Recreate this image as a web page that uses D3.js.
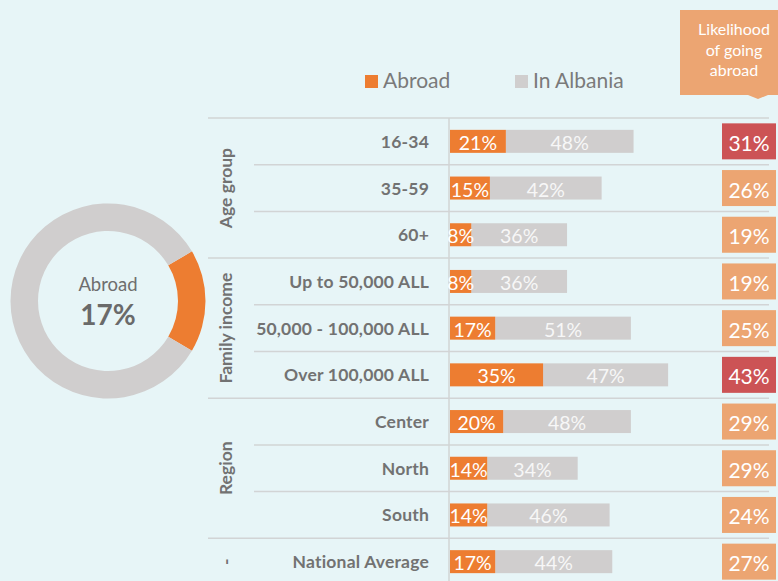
<!DOCTYPE html>
<html>
<head>
<meta charset="utf-8">
<script src="https://cdn.jsdelivr.net/npm/d3@7"></script>
<style>
  html, body { margin: 0; padding: 0; background: #E7F5F7; }
  svg { display: block; font-family: Lato, "Open Sans", sans-serif; }
</style>
</head>
<body>
<svg id="chart" width="778" height="581"></svg>
<script>
// Share of respondents planning to move abroad vs. within Albania, by group
const categories = ["16-34", "35-59", "60+", "Up to 50,000 ALL", "50,000 - 100,000 ALL",
  "Over 100,000 ALL", "Center", "North", "South", "National Average"];
const groups = [
  { name: "Age group", first: 0, last: 2 },
  { name: "Family income", first: 3, last: 5 },
  { name: "Region", first: 6, last: 8 },
  { name: "-", first: 9, last: 9 }
];
const abroad = [21, 15, 8, 8, 17, 35, 20, 14, 14, 17];
const inAlbania = [48, 42, 36, 36, 51, 47, 48, 34, 46, 44];
const likelihood = [31, 26, 19, 19, 25, 43, 29, 29, 24, 27];
const nationalAbroad = 17;
const seriesNames = ["Abroad", "In Albania"];

const C = {
  orange: "#ED7D31", gray: "#D0CECE", red: "#CC5355", peach: "#ECA572",
  text: "#727272", rule: "#D2D4D5"
};

const svg = d3.select("#chart");

// Row layout
const y = d3.scaleBand().domain(d3.range(categories.length)).range([118, 585]).padding(0);
const x = d3.scaleLinear().domain([0, 100]).range([450, 716]);
const barH = 23;
const axisX = 449;

// Row rules: right side for every boundary, left side full width at group edges
const bounds = d3.range(categories.length).map(i => y(i));
const groupStarts = new Set(groups.map(g => g.first));
svg.append("g").selectAll("line").data(bounds).join("line")
  .attr("x1", (d, i) => groupStarts.has(i) ? 208 : 254)
  .attr("x2", 769)
  .attr("y1", d => d).attr("y2", d => d)
  .attr("stroke", C.rule).attr("stroke-width", 1.5);
svg.append("line").attr("x1", axisX).attr("x2", axisX).attr("y1", 118).attr("y2", 581)
  .attr("stroke", C.rule).attr("stroke-width", 1.5);

// Category labels
svg.append("g").selectAll("text").data(categories).join("text")
  .attr("x", 429).attr("y", (d, i) => y(i) + y.bandwidth() / 2)
  .attr("text-anchor", "end").attr("dominant-baseline", "central")
  .attr("font-size", 17.5).attr("font-weight", 700).attr("fill", C.text)
  .attr("letter-spacing", 0.2)
  .text(d => d);

// Group labels (rotated)
svg.append("g").selectAll("text").data(groups).join("text")
  .attr("transform", g => {
    const cy = (y(g.first) + y(g.last) + y.bandwidth()) / 2;
    return `translate(225,${cy}) rotate(-90)`;
  })
  .attr("text-anchor", "middle").attr("dominant-baseline", "central")
  .attr("font-size", 17.5).attr("font-weight", 700).attr("fill", C.text)
  .text(g => g.name);

// Stacked bars
const rows = categories.map((c, i) => ({ i, a: abroad[i], b: inAlbania[i] }));
const bars = svg.append("g").selectAll("g").data(rows).join("g")
  .attr("transform", d => `translate(0,${y(d.i) + y.bandwidth() / 2})`);
bars.append("rect").attr("x", d => x(d.a)).attr("y", -barH / 2)
  .attr("width", d => x(d.a + d.b) - x(d.a)).attr("height", barH).attr("fill", C.gray);
bars.append("rect").attr("x", x(0)).attr("y", -barH / 2)
  .attr("width", d => x(d.a) - x(0)).attr("height", barH).attr("fill", C.orange);
bars.append("text").attr("x", d => (x(0) + x(d.a)) / 2).attr("y", 1)
  .attr("text-anchor", "middle").attr("dominant-baseline", "central")
  .attr("font-size", 19.5).attr("fill", "#fff").text(d => d.a + "%");
bars.append("text").attr("x", d => (x(d.a) + x(d.a + d.b)) / 2).attr("y", 1)
  .attr("text-anchor", "middle").attr("dominant-baseline", "central")
  .attr("font-size", 19.5).attr("fill", "#F7F7F7").text(d => d.b + "%");

// Likelihood boxes
const lk = svg.append("g").selectAll("g").data(likelihood).join("g")
  .attr("transform", (d, i) => `translate(749,${y(i) + y.bandwidth() / 2})`);
lk.append("rect").attr("x", -27).attr("y", -18).attr("width", 54).attr("height", 36)
  .attr("fill", d => d >= 30 ? C.red : C.peach);
lk.append("text").attr("y", 1).attr("text-anchor", "middle").attr("dominant-baseline", "central")
  .attr("font-size", 21).attr("fill", "#fff").text(d => d + "%");

// Header callout
svg.append("path")
  .attr("d", "M680,10 H778 V95 H768 L758,99 L748,95 H680 Z")
  .attr("fill", C.peach);
svg.append("text").attr("x", 734).attr("y", 35).attr("text-anchor", "middle")
  .attr("font-size", 16).attr("fill", "#fff")
  .selectAll("tspan").data(["Likelihood", "of going", "abroad"]).join("tspan")
  .attr("x", 734).attr("dy", (d, i) => i === 0 ? 0 : 20.5).text(d => d);

// Legend
const legend = svg.append("g").selectAll("g").data(seriesNames).join("g")
  .attr("transform", (d, i) => `translate(${i === 0 ? 365 : 515},75)`);
legend.append("rect").attr("width", 13).attr("height", 13)
  .attr("fill", (d, i) => i === 0 ? C.orange : C.gray);
legend.append("text").attr("x", 18).attr("y", 12.5)
  .attr("font-size", 21).attr("fill", "#7A7A7A").text(d => d);

// Donut for the national share abroad
const pie = d3.pie().sort(null).startAngle(Math.PI / 2 - nationalAbroad / 100 * Math.PI)
  .endAngle(Math.PI / 2 - nationalAbroad / 100 * Math.PI + 2 * Math.PI);
const arc = d3.arc().innerRadius(70).outerRadius(97.5);
const donut = svg.append("g").attr("transform", "translate(108,301)");
donut.selectAll("path").data(pie([nationalAbroad, 100 - nationalAbroad])).join("path")
  .attr("d", arc).attr("fill", (d, i) => i === 0 ? C.orange : C.gray);
donut.append("text").attr("y", -10).attr("text-anchor", "middle")
  .attr("font-size", 18.5).attr("fill", "#6E6E6E").text("Abroad");
donut.append("text").attr("y", 24).attr("text-anchor", "middle")
  .attr("font-size", 28).attr("font-weight", 700).attr("fill", "#6A6A6A").text(nationalAbroad + "%");
</script>
</body>
</html>
